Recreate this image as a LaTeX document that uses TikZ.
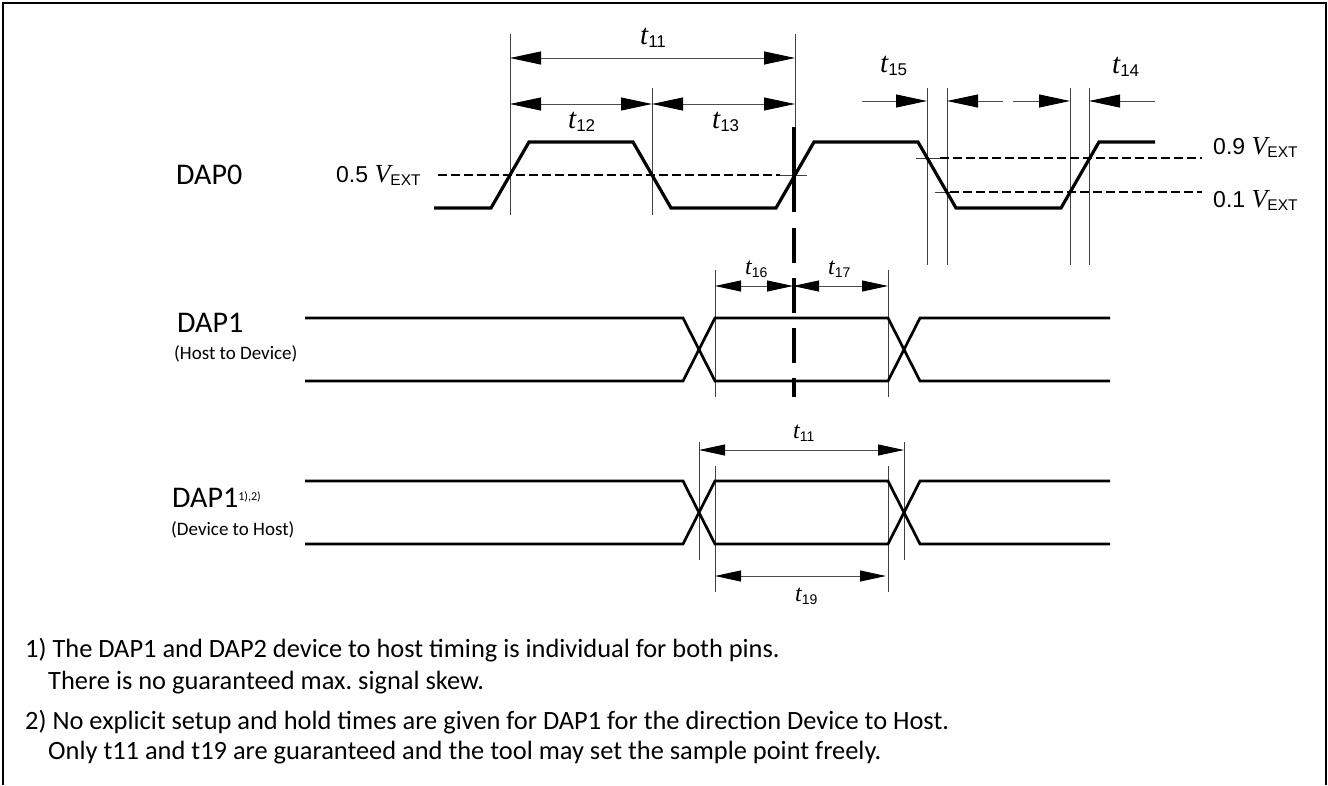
\documentclass[tikz,border=0pt]{standalone}
\usepackage{fontspec}
\setmainfont{Carlito}
\newfontfamily\labelfont{Liberation Sans}
\newfontfamily\timefont{Liberation Serif}
\usetikzlibrary{arrows.meta}
\frenchspacing
% times and levels
\newcommand{\tname}[3]{{\fontsize{#2}{#2}\timefont\itshape t}{\fontsize{#3}{#3}\labelfont\raisebox{-3pt}{#1}}}
\newcommand{\vlevel}[1]{{\fontsize{23}{23}\labelfont #1~}{\fontsize{26}{26}\timefont\itshape V}{\fontsize{15.5}{15.5}\labelfont\raisebox{-3pt}{EXT}}}
\tikzset{
	signal/.style={line width=3.2pt,line join=miter},
	bus/.style={line width=2.7pt,line join=miter},
	guide/.style={line width=0.9pt,black!75},
	level/.style={line width=1.3pt,dash pattern=on 9pt off 4pt},
	dim/.style={line width=0.9pt,black!70,-{Triangle[black,length=31pt,width=13pt]}},
	dimboth/.style={line width=0.9pt,black!70,{Triangle[black,length=31pt,width=13pt]}-{Triangle[black,length=31pt,width=13pt]}},
	dimsmall/.style={line width=0.9pt,black!70,{Triangle[black,length=26pt,width=11pt]}-{Triangle[black,length=26pt,width=11pt]}},
	sigtext/.style={anchor=west,inner sep=0pt,font=\fontsize{30}{30}\selectfont},
	dirtext/.style={anchor=west,inner sep=0pt,font=\fontsize{19}{19}\selectfont},
	notetext/.style={anchor=west,inner sep=0pt,font=\fontsize{26.4}{26.4}\selectfont},
	timetext/.style={anchor=west,inner sep=0pt},
}
\begin{document}
\begin{tikzpicture}[x=1pt,y=-1pt,line cap=butt]
	\useasboundingbox (0,0) rectangle (1328,785);
	% frame
	\draw[line width=1.5pt] (3,785)--(3,3)--(1326,3)--(1326,785);
	% guides
	\foreach \x/\ya/\yb in {510/34/215,652/88/215,795/34/127,927/88/265,947/88/265,1070/88/265,1089/88/265,715/270/397,888/270/397,699/442/560,904/442/560,715/466/592,888/466/592}{
		\draw[guide] (\x,\ya)--(\x,\yb);
	}
	% levels
	\draw[level] (438,175)--(780,175);
	\draw[guide] (780,175)--(807,175);
	\draw[guide] (916,158)--(940,158);
	\draw[level] (940,158)--(1202,158);
	\draw[guide] (935,192)--(950,192);
	\draw[level] (950,192)--(1202,192);
	% signals
	\draw[signal] (434,208)--(491,208)--(529,142)--(633,142)--(671,208)--(776,208)--(814,142)--(918,142)--(956,208)--(1061,208)--(1099,142)--(1155,142);
	\foreach \ya/\yb in {318/381,481/544}{
		\draw[bus] (305,\ya)--(683,\ya)--(715,\yb)--(888,\yb)--(920,\ya)--(1110,\ya);
		\draw[bus] (305,\yb)--(683,\yb)--(715,\ya)--(888,\ya)--(920,\yb)--(1110,\yb);
	}
	% sample point
	\foreach \ya/\yb in {127/212,228/263,278/313,328/363,378/397}{
		\draw[line width=4pt] (793.5,\ya)--(793.5,\yb);
	}
	% arrows
	\draw[dimboth] (510,58)--(795,58);
	\draw[dimboth] (510,104)--(652,104);
	\draw[dimboth] (652,104)--(795,104);
	\draw[dim] (862,101)--(927,101);
	\draw[dim] (1003,101)--(947,101);
	\draw[dim] (1013,101)--(1070,101);
	\draw[dim] (1155,101)--(1089,101);
	\draw[dimsmall] (715,286)--(793,286);
	\draw[dimsmall] (793,286)--(888,286);
	\draw[dimsmall] (699,450)--(904,450);
	\draw[dimsmall] (715,576)--(886,576);
	% labels
	\path
	(640,38) node[timetext] (t11a) {\tname{11}{29}{17}}
	(568,122) node[timetext] (t12) {\tname{12}{29}{17}}
	(712,122) node[timetext] (t13) {\tname{13}{29}{17}}
	(880,66) node[timetext] (t15) {\tname{15}{29}{17}}
	(1112,67) node[timetext] (t14) {\tname{14}{29}{17}}
	(745,269) node[timetext] (t16) {\tname{16}{24}{14}}
	(828,269) node[timetext] (t17) {\tname{17}{24}{14}}
	(793,433) node[timetext] (t11b) {\tname{11}{24}{14}}
	(795,596) node[timetext] (t19) {\tname{19}{24}{14}}
	(336,175) node[timetext] (v05) {\vlevel{0.5}}
	(1213,147) node[timetext] (v09) {\vlevel{0.9}}
	(1213,200) node[timetext] (v01) {\vlevel{0.1}}
	(176,175) node[sigtext] (dap0) {DAP0}
	(177,323) node[sigtext] (dap1a) {DAP1}
	(174,354) node[dirtext] (hostdev) {(Host to Device)}
	(172,498) node[sigtext] (dap1b) {DAP1\raisebox{7pt}{\fontsize{12}{12}\selectfont 1),2)}}
	(171,530) node[dirtext] (devhost) {(Device to Host)}
	(25,650) node[notetext] (note1a) {1) The DAP1 and DAP2 device to host timing is individual for both pins.}
	(48,683) node[notetext] (note1b) {There is no guaranteed max. signal skew.}
	(25,722) node[notetext] (note2a) {2) No explicit setup and hold times are given for DAP1 for the direction Device to Host.}
	(48,753) node[notetext] (note2b) {Only t11 and t19 are guaranteed and the tool may set the sample point freely.}
	;
\end{tikzpicture}
\end{document}
